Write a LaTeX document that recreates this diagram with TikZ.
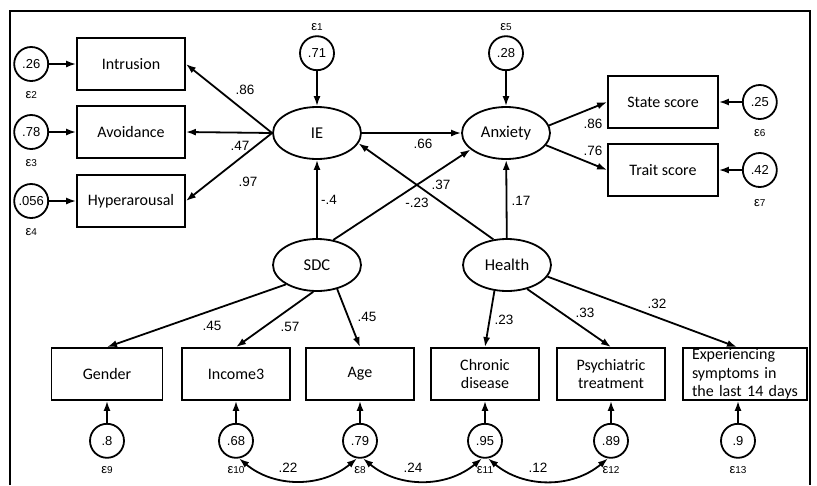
\documentclass[tikz,border=0pt]{standalone}
\usepackage{fontspec}
\usepackage{tikz}
\usetikzlibrary{arrows.meta,shapes.geometric,positioning}
\newfontfamily\boxfont{Carlito}
\newfontfamily\numfont{Liberation Sans}
\newcommand{\errlab}[1]{ε{\fontsize{10}{10}\selectfont #1}}

\tikzset{
  latent/.style={ellipse, draw, minimum width=88pt, minimum height=52pt, font=\boxfont\fontsize{16.5}{18}\selectfont},
  observed/.style={rectangle, draw, minimum width=108pt, minimum height=52pt, align=center, font=\boxfont\fontsize{16}{18}\selectfont},
  errc/.style={circle, draw, minimum size=34pt, inner sep=0pt, font=\numfont\fontsize{13}{13}\selectfont},
  coef/.style={inner sep=1pt, font=\numfont\fontsize{13.5}{13.5}\selectfont},
  elab/.style={inner sep=1pt, font=\numfont\fontsize{13}{13}\selectfont}
}

\begin{document}
\begin{tikzpicture}[x=1pt,y=-1pt,line width=1.8pt,>={Latex[length=10pt,width=7pt]}]

\useasboundingbox (0,0) rectangle (817,485);
\draw (10,485) -- (10,11) -- (810,11) -- (810,485);

% latent variables
\node[latent] (IE)     at (317,133) {IE};
\node[latent] (Anx)    at (506,133) {Anxiety};
\node[latent] (SDC)    at (317,265) {SDC};
\node[latent] (Health) at (507,265) {Health};

% indicators
\node[observed] (Intr)  at (131,64)  {Intrusion};
\node[observed] (Avoid) at (131,132) {Avoidance};
\node[observed] (Hyper) at (131,201) {Hyperarousal};

\node[observed, minimum width=110pt] (State) at (663,102) {State score};
\node[observed, minimum width=110pt] (Trait) at (663,170) {Trait score};

\node[observed, minimum width=111pt] (Gender) at (107,374) {Gender};
\node[observed] (Income)  at (236,374) {Income3};
\node[observed] (Age)     at (360,374) {Age};
\node[observed] (Chronic) at (485,374) {Chronic\\disease};
\node[observed] (Psych)   at (611,374) {Psychiatric\\treatment};
\node[observed, minimum width=124pt, text width=106pt, align=left, inner ysep=0pt, font=\boxfont\fontsize{16}{18.5}\selectfont] (Exp) at (745,374) {Experiencing\\symptoms in\\the last 14 days};

% error terms
\node[errc] (e1)  [above=35pt of IE]      {.71};
\node[errc] (e5)  [above=35pt of Anx]     {.28};
\node[errc] (e2)  [left=27pt of Intr]     {.26};
\node[errc] (e3)  [left=27pt of Avoid]    {.78};
\node[errc] (e4)  [left=27pt of Hyper]    {.056};
\node[errc] (e6)  [right=23pt of State]   {.25};
\node[errc] (e7)  [right=23pt of Trait]   {.42};
\node[errc] (e9)  [below=22pt of Gender]  {.8};
\node[errc] (e10) [below=22pt of Income]  {.68};
\node[errc] (e8)  [below=22pt of Age]     {.79};
\node[errc] (e11) [below=22pt of Chronic] {.95};
\node[errc] (e12) [below=22pt of Psych]   {.89};
\node[errc] (e13) [below=22pt of Exp, xshift=-7pt] {.9};

\node[elab] (l1)  [above=3pt of e1]  {\errlab{1}};
\node[elab] (l5)  [above=3pt of e5]  {\errlab{5}};
\node[elab] (l2)  [below=8pt of e2]  {\errlab{2}};
\node[elab] (l3)  [below=8pt of e3]  {\errlab{3}};
\node[elab] (l4)  [below=8pt of e4]  {\errlab{4}};
\node[elab] (l6)  [below=8pt of e6]  {\errlab{6}};
\node[elab] (l7)  [below=10pt of e7] {\errlab{7}};
\node[elab] (l9)  [below=6pt of e9]  {\errlab{9}};
\node[elab] (l10) [below=6pt of e10] {\errlab{10}};
\node[elab] (l8)  [below=6pt of e8]  {\errlab{8}};
\node[elab] (l11) [below=6pt of e11] {\errlab{11}};
\node[elab] (l12) [below=6pt of e12] {\errlab{12}};
\node[elab] (l13) [below=6pt of e13] {\errlab{13}};

% paths
\path (e1) edge[->] (IE)
      (e5) edge[->] (Anx)
      (e2) edge[->] (Intr)
      (e3) edge[->] (Avoid)
      (e4) edge[->] (Hyper)
      (e6) edge[->] (State)
      (e7) edge[->] (Trait)
      (e9) edge[->] (Gender)
      (e10) edge[->] (Income)
      (e8) edge[->] (Age)
      (e11) edge[->] (Chronic)
      (e12) edge[->] (Psych)
      (e13.north) edge[->] (e13.north |- Exp.south);

\path (IE.west) edge[->] (Intr.east)
      (IE.west) edge[->] (Avoid.east)
      (IE.west) edge[->] (Hyper.east)
      (IE) edge[->] (Anx)
      (SDC) edge[->] (IE)
      (SDC.57) edge[->] (Anx.205)
      (Health.118) edge[->] (IE.346)
      (Health) edge[->] (Anx)
      (Anx.10) edge[->] (State.west)
      (Anx.343) edge[->] (Trait.west);

\path (SDC.212) edge[->] (Gender.north)
      (SDC.262) edge[->] (Income.north)
      (SDC.310) edge[->] (Age.north)
      (Health.244) edge[->] (Chronic.north)
      (Health.310) edge[->] (Psych.north)
      (Health.344) edge[->] ([xshift=-8pt]Exp.north);

% covariances
\path (e10.280) edge[<->, out=-40, in=-140] (e8.260)
      (e8.280) edge[<->, out=-40, in=-140] (e11.260)
      (e11.280) edge[<->, out=-40, in=-140] (e12.260);

% coefficients
\node[coef] (c86a) at (245,90)  {.86};
\node[coef] (c47)  at (240,146) {.47};
\node[coef] (c97)  at (248,182) {.97};
\node[coef] (c4)   at (329,200) {-.4};
\node[coef] (c66)  at (423,144) {.66};
\node[coef] (c37)  at (441,185) {.37};
\node[coef] (c23a) at (417,203) {-.23};
\node[coef] (c17)  at (521,201) {.17};
\node[coef] (c86b) at (593,124) {.86};
\node[coef] (c76)  at (593,151) {.76};
\node[coef] (c45a) at (212,326) {.45};
\node[coef] (c57)  at (290,327) {.57};
\node[coef] (c45b) at (367,317) {.45};
\node[coef] (c23b) at (504,320) {.23};
\node[coef] (c33)  at (585,313) {.33};
\node[coef] (c32)  at (657,304) {.32};
\node[coef] (c22)  at (288,468) {.22};
\node[coef] (c24)  at (413,468) {.24};
\node[coef] (c12)  at (538,468) {.12};

\end{tikzpicture}
\end{document}
